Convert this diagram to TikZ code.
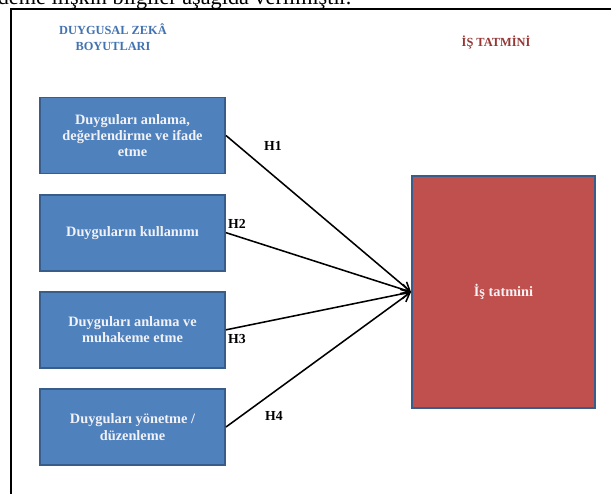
\documentclass[tikz,border=0pt]{standalone}
\usepackage{fontspec}
\setmainfont{Liberation Serif}
\usepackage{xcolor}
\usepackage{tikz}
\usetikzlibrary{arrows.meta,positioning}
\definecolor{dzblue}{HTML}{4F81BD}
\definecolor{dzedge}{HTML}{385D8A}
\definecolor{itred}{HTML}{C0504D}
\definecolor{hdblue}{HTML}{4272B0}
\definecolor{hdred}{HTML}{953735}
\definecolor{boxtext}{HTML}{F2F2F6}

\begin{document}
\begin{tikzpicture}[
  dimBox/.style={rectangle,draw=dzedge,fill=dzblue,line width=1.4pt,
    minimum width=4.625cm,minimum height=1.9cm,align=center,
    text=boxtext,font=\fontsize{10.2}{11.6}\selectfont\bfseries},
  outBox/.style={rectangle,draw=dzedge,fill=itred,line width=1.4pt,
    minimum width=4.575cm,minimum height=5.8cm,align=center,
    text=boxtext,font=\fontsize{10.2}{11.6}\selectfont\bfseries},
  hypo/.style={font=\fontsize{9.8}{11.4}\selectfont\bfseries,inner sep=0pt},
  head/.style={align=center,font=\fontsize{8.8}{11.2}\selectfont\bfseries},
  link/.style={-{Straight Barb[length=6pt,width=7pt]},line width=1.1pt,black},
  node distance=0.48cm
]
\useasboundingbox (0,0) rectangle (15.275,-12.325);
\node[anchor=base west,inner sep=0pt,font=\fontsize{15.8}{18}\selectfont]
  (intro) at (-0.06,-0.125) {deme ilişkin bilgiler aşağıda verilmiştir.};
\draw[line width=1.2pt] (0.275,-12.6) -- (0.275,-0.225) -- (15.6,-0.225);

\node[head,text=hdblue] (hdrL) at (2.825,-0.925) {DUYGUSAL ZEKÂ\\BOYUTLARI};
\node[head,text=hdred] (hdrR) at (12.4,-1.05) {İŞ TATMİNİ};

\node[dimBox] (d1) at (3.3125,-3.3875) {Duyguları anlama,\\değerlendirme ve ifade\\etme};
\node[dimBox,below=of d1] (d2) {Duyguların kullanımı};
\node[dimBox,below=of d2] (d3) {Duyguları anlama ve\\muhakeme etme};
\node[dimBox,below=of d3] (d4) {Duyguları yönetme /\\düzenleme};

\node[outBox] (it) at (12.5875,-7.3) {İş tatmini};

\draw[link] (d1.east) -- (it.west);
\draw[link] (d2.east) -- (it.west);
\draw[link] (d3.east) -- (it.west);
\draw[link] (d4.east) -- (it.west);

\node[hypo] (h1) at (6.825,-3.65) {H1};
\node[hypo] (h2) at (5.925,-5.6) {H2};
\node[hypo] (h3) at (5.925,-8.475) {H3};
\node[hypo] (h4) at (6.85,-10.4) {H4};
\end{tikzpicture}
\end{document}
